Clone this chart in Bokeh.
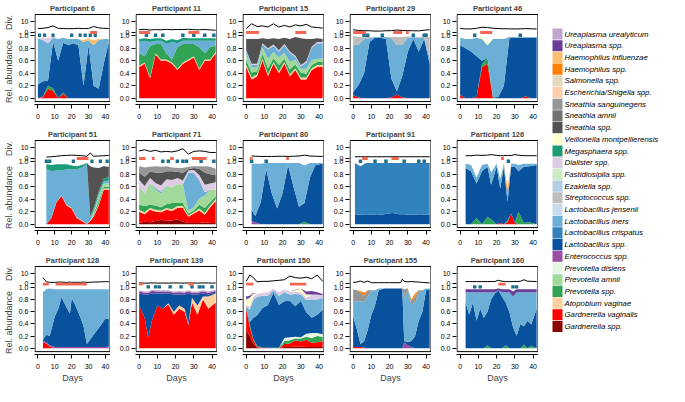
from bokeh.plotting import figure
from bokeh.models import ColumnDataSource, Range1d, FixedTicker
from bokeh.layouts import row, column
from bokeh.embed import file_html
from bokeh.resources import INLINE
from bokeh.core.properties import value

# ---------------- taxa (stack order: bottom -> top) ----------------
TAXA = ["Gardnerella spp.", "Gardnerella vaginalis", "Atopobium vaginae",
        "Prevotella spp.", "Prevotella amnii", "Prevotella disiens",
        "Enterococcus spp.", "Lactobacillus spp.", "Lactobacillus crispatus",
        "Lactobacillus iners", "Lactobacillus jensenii", "Streptococcus spp.",
        "Ezakiella spp.", "Fastidiosipila spp.", "Dialister spp.",
        "Megasphaera spp.", "Veillonella montpellierensis", "Sneathia spp.",
        "Sneathia amnii", "Sneathia sanguinegens", "Escherichia/Shigella spp.",
        "Salmonella spp.", "Haemophilus spp.", "Haemophilus influenzae",
        "Ureaplasma spp.", "Ureaplasma urealyticum"]
COLORS = ["#8b0000", "#ff0000", "#fdd0a2",
          "#31a354", "#a1d99b", "#e5f5e0",
          "#984ea3", "#08519c", "#3182bd",
          "#6baed6", "#c6dbef", "#bdbdbd",
          "#b3cde3", "#ccebc5", "#decbe4",
          "#1b9e77", "#ffffcc", "#525252",
          "#737373", "#969696", "#fdcdac",
          "#e5d8bd", "#ff7f00", "#fdbf6f",
          "#6a3d9a", "#c2a5cf"]
X_TICKS = [0, 10, 20, 30, 40]
Y_TICKS = [0.0, 0.2, 0.4, 0.6, 0.8, 1.0]
Y_LABELS = ["0.0", "0.2", "0.4", "0.6", "0.8", "1.0"]
DIV_TICKS = [0, 10]

# ---------------- panel data ----------------
P6 = {"title": "Participant 6",
      "days": [0, 3, 6, 9, 12, 15, 18, 21, 24, 27, 30, 33, 36, 39, 42],
      "div": [3.5, 3.8, 4.5, 6.0, 3.8, 3.6, 3.4, 3.5, 3.8, 3.5, 3.6, 5.5, 4.2, 3.8, 3.6],
      "blue": [1, 4, 9, 20, 25, 28, 31, 34], "red": [(31, 35)],
      "abund": {
          "Gardnerella vaginalis": [0, 0.02, 0.15, 0.12, 0, 0.07, 0, 0, 0, 0, 0, 0, 0, 0, 0],
          "Prevotella spp.": [0, 0.01, 0.05, 0.04, 0, 0.02, 0, 0, 0, 0, 0, 0, 0, 0, 0],
          "Lactobacillus spp.": [0.22, 0.24, 0.08, 0.75, 0.6, 0.8, 0.85, 0.88, 0.85, 0.2, 0.85, 0.2, 0.15, 0.55, 0.9],
          "Lactobacillus iners": [0.74, 0.66, 0.6, 0.06, 0.35, 0.08, 0.1, 0.07, 0.1, 0.7, 0.08, 0.65, 0.78, 0.4, 0.05],
          "Dialister spp.": [0, 0.04, 0.08, 0.02, 0, 0, 0, 0, 0, 0, 0, 0, 0, 0, 0],
          "Haemophilus influenzae": [0, 0, 0, 0, 0, 0, 0, 0, 0, 0.03, 0.03, 0.08, 0.02, 0, 0]}}

P11 = {"title": "Participant 11",
       "days": [0, 3, 6, 9, 12, 15, 18, 21, 24, 27, 30, 33, 36, 39, 42],
       "div": [2.5, 2.8, 2.2, 2.6, 2.4, 2.8, 2.5, 2.7, 2.6, 2.9, 2.5, 2.4, 2.7, 2.3, 2.0],
       "blue": [4, 9, 13, 24, 30, 36, 41], "red": [(0, 6), (27, 33)],
       "abund": {
           "Gardnerella vaginalis": [0.5, 0.55, 0.32, 0.7, 0.6, 0.6, 0.55, 0.45, 0.55, 0.6, 0.65, 0.45, 0.6, 0.6, 0.72],
           "Atopobium vaginae": [0.02, 0.02, 0.02, 0.02, 0.02, 0.02, 0.02, 0.02, 0.02, 0.02, 0.02, 0.02, 0.02, 0.02, 0.02],
           "Prevotella spp.": [0.2, 0.1, 0.5, 0.15, 0.25, 0.1, 0.05, 0.35, 0.3, 0.25, 0.2, 0.35, 0.1, 0.2, 0.1],
           "Lactobacillus iners": [0.18, 0.25, 0.06, 0.05, 0.05, 0.15, 0.28, 0.06, 0.05, 0.05, 0.05, 0.1, 0.2, 0.1, 0.08],
           "Megasphaera spp.": [0.05, 0.04, 0.05, 0.04, 0.04, 0.05, 0.05, 0.05, 0.05, 0.04, 0.04, 0.04, 0.04, 0.04, 0.04]}}

P15 = {"title": "Participant 15",
       "days": [0, 3, 6, 9, 12, 15, 18, 21, 24, 27, 30, 33, 36, 39, 42],
       "div": [3.5, 8.0, 5.5, 6.0, 5.0, 8.0, 5.0, 6.5, 5.0, 7.0, 6.0, 7.5, 5.0, 4.5, 4.0],
       "blue": [], "red": [(0, 7), (27, 33)],
       "abund": {
           "Gardnerella vaginalis": [0.5, 0.3, 0.35, 0.6, 0.35, 0.55, 0.4, 0.55, 0.35, 0.45, 0.3, 0.3, 0.45, 0.5, 0.5],
           "Atopobium vaginae": [0.03, 0.03, 0.03, 0.03, 0.03, 0.03, 0.03, 0.03, 0.03, 0.03, 0.03, 0.03, 0.03, 0.03, 0.03],
           "Prevotella spp.": [0.08, 0.08, 0.05, 0.08, 0.1, 0.06, 0.1, 0.05, 0.08, 0.06, 0.08, 0.06, 0.05, 0.05, 0.05],
           "Prevotella amnii": [0.1, 0.08, 0.06, 0.1, 0.15, 0.1, 0.12, 0.1, 0.12, 0.08, 0.06, 0.08, 0.08, 0.05, 0.05],
           "Lactobacillus iners": [0.04, 0.04, 0.04, 0.05, 0.15, 0.1, 0.1, 0.12, 0.15, 0.04, 0.04, 0.1, 0.2, 0.25, 0.25],
           "Dialister spp.": [0.02, 0.02, 0.02, 0.02, 0.02, 0.02, 0.02, 0.02, 0.02, 0.02, 0.02, 0.02, 0.02, 0.02, 0.02],
           "Sneathia spp.": [0.18, 0.4, 0.4, 0.08, 0.15, 0.1, 0.18, 0.1, 0.2, 0.3, 0.43, 0.36, 0.12, 0.06, 0.05]}}

P29 = {"title": "Participant 29",
       "days": [0, 3, 6, 9, 12, 15, 18, 21, 24, 27, 30, 33, 36, 39, 42],
       "div": [2.5, 1.8, 1.5, 1.5, 1.2, 1.2, 1.5, 1.6, 2.2, 1.8, 1.6, 1.5, 1.4, 2.0, 2.5],
       "blue": [6, 8, 16, 33, 39, 40], "red": [(0, 7), (22, 27), (29, 30.5)],
       "abund": {
           "Gardnerella vaginalis": [0.05, 0.01, 0, 0, 0, 0, 0, 0.01, 0.06, 0.01, 0, 0, 0, 0, 0],
           "Lactobacillus spp.": [0.05, 0.2, 0.4, 0.9, 0.97, 0.97, 0.95, 0.3, 0.05, 0.35, 0.75, 0.95, 0.75, 0.95, 0.55],
           "Lactobacillus iners": [0.75, 0.65, 0.55, 0.06, 0.01, 0.01, 0.03, 0.65, 0.74, 0.5, 0.22, 0.03, 0.22, 0.02, 0.1],
           "Streptococcus spp.": [0.15, 0.12, 0.03, 0.02, 0, 0, 0, 0.02, 0.13, 0.12, 0.02, 0, 0.01, 0.01, 0.33]}}

P46 = {"title": "Participant 46",
       "days": [0, 3, 6, 9, 12, 15, 18, 21, 24, 27, 30, 33, 36, 39, 42],
       "div": [3.5, 3.3, 3.2, 3.8, 4.8, 4.5, 3.8, 3.5, 3.4, 3.3, 3.2, 3.3, 3.5, 3.3, 3.2],
       "blue": [8, 33], "red": [(11, 17.5)],
       "abund": {
           "Gardnerella vaginalis": [0.05, 0, 0, 0.02, 0.5, 0.55, 0, 0, 0, 0, 0, 0, 0.03, 0, 0],
           "Prevotella spp.": [0, 0, 0, 0, 0.05, 0.1, 0.02, 0, 0, 0, 0, 0, 0, 0, 0],
           "Lactobacillus spp.": [0.8, 0.8, 0.75, 0.65, 0.05, 0, 0, 0.02, 0.2, 0.96, 0.97, 0.97, 0.94, 0.97, 0.97],
           "Lactobacillus iners": [0.12, 0.15, 0.2, 0.3, 0.35, 0.2, 0.93, 0.93, 0.75, 0.02, 0.01, 0.01, 0.01, 0.01, 0.01],
           "Veillonella montpellierensis": [0, 0, 0, 0, 0.05, 0.03, 0, 0, 0, 0, 0, 0, 0, 0, 0]}}

P51 = {"title": "Participant 51",
       "days": [5, 8, 11, 14, 17, 20, 23, 26, 29, 31, 33, 36, 39, 42],
       "div": [1.2, 1.5, 2.0, 2.5, 2.8, 3.0, 2.8, 2.5, 2.0, 5.0, 2.0, 2.2, 2.5, 2.8],
       "blue": [5, 7, 21, 32, 37, 41], "red": [(23, 30)],
       "abund": {
           "Gardnerella vaginalis": [0, 0.1, 0.35, 0.45, 0.3, 0.25, 0.1, 0.05, 0, 0.05, 0.12, 0.3, 0.55, 0.55],
           "Atopobium vaginae": [0, 0, 0.01, 0.01, 0.01, 0.01, 0.01, 0.01, 0, 0.01, 0.02, 0.02, 0.02, 0.02],
           "Prevotella spp.": [0, 0, 0, 0, 0, 0, 0, 0, 0, 0, 0.02, 0.05, 0.03, 0.03],
           "Prevotella amnii": [0, 0, 0, 0, 0, 0, 0, 0, 0, 0, 0.03, 0.06, 0.05, 0.05],
           "Lactobacillus iners": [0.88, 0.75, 0.5, 0.4, 0.57, 0.62, 0.77, 0.85, 0.97, 0.05, 0.02, 0.05, 0.03, 0.05],
           "Megasphaera spp.": [0.08, 0.1, 0.1, 0.1, 0.08, 0.06, 0.05, 0.04, 0.01, 0.02, 0.05, 0.04, 0.05, 0.06],
           "Sneathia spp.": [0, 0, 0, 0, 0, 0, 0, 0, 0, 0.8, 0.65, 0.38, 0.2, 0.16]}}

P71 = {"title": "Participant 71",
       "days": [0, 3, 6, 9, 12, 15, 18, 21, 24, 27, 30, 33, 36, 39, 42],
       "div": [7.0, 8.0, 6.5, 7.5, 6.0, 6.5, 6.0, 7.0, 9.0, 4.0, 6.5, 7.0, 6.5, 5.5, 5.5],
       "blue": [13, 16, 21, 24, 26, 34, 41], "red": [(0, 3.5), (7, 8.5), (17, 19), (29, 37)],
       "abund": {
           "Gardnerella spp.": [0.02, 0.04, 0.03, 0.05, 0.07, 0.05, 0.06, 0.08, 0.04, 0.02, 0.02, 0.02, 0.03, 0.02, 0.02],
           "Gardnerella vaginalis": [0.18, 0.12, 0.2, 0.15, 0.12, 0.18, 0.15, 0.18, 0.22, 0.1, 0.15, 0.2, 0.12, 0.25, 0.35],
           "Atopobium vaginae": [0.03, 0.03, 0.03, 0.03, 0.03, 0.03, 0.03, 0.03, 0.03, 0.02, 0.02, 0.03, 0.03, 0.03, 0.03],
           "Prevotella spp.": [0.08, 0.1, 0.05, 0.07, 0.05, 0.06, 0.1, 0.05, 0.05, 0.03, 0.03, 0.06, 0.08, 0.05, 0.05],
           "Prevotella amnii": [0.3, 0.2, 0.35, 0.25, 0.22, 0.3, 0.25, 0.3, 0.3, 0.05, 0.05, 0.1, 0.2, 0.2, 0.1],
           "Lactobacillus iners": [0, 0, 0, 0.03, 0.03, 0, 0, 0, 0, 0.6, 0.55, 0.3, 0.05, 0, 0],
           "Dialister spp.": [0.1, 0.12, 0.08, 0.08, 0.1, 0.1, 0.12, 0.1, 0.06, 0.04, 0.05, 0.08, 0.12, 0.1, 0.12],
           "Sneathia spp.": [0.12, 0.15, 0.1, 0.17, 0.2, 0.13, 0.14, 0.1, 0.12, 0.02, 0.03, 0.1, 0.2, 0.15, 0.12],
           "Sneathia sanguinegens": [0.1, 0.15, 0.08, 0.1, 0.1, 0.08, 0.06, 0.06, 0.08, 0.04, 0.03, 0.04, 0.1, 0.12, 0.1]}}

P80 = {"title": "Participant 80",
       "days": [3, 5, 8, 11, 14, 17, 20, 23, 26, 29, 32, 35, 38, 42],
       "div": [2.2, 2.0, 1.8, 1.8, 1.8, 1.9, 2.0, 1.8, 2.0, 2.2, 3.0, 2.2, 2.0, 1.8],
       "blue": [3, 11], "red": [(2, 3.5), (22, 23.5)],
       "abund": {
           "Prevotella spp.": [0, 0, 0, 0, 0, 0, 0, 0, 0, 0, 0.04, 0, 0, 0],
           "Enterococcus spp.": [0.05, 0.03, 0, 0, 0, 0, 0, 0, 0, 0, 0, 0, 0, 0],
           "Lactobacillus spp.": [0.18, 0.1, 0.35, 0.88, 0.5, 0.25, 0.5, 0.95, 0.6, 0.28, 0.3, 0.75, 0.95, 0.97],
           "Lactobacillus iners": [0.74, 0.84, 0.62, 0.1, 0.48, 0.73, 0.48, 0.03, 0.38, 0.7, 0.6, 0.23, 0.03, 0.01]}}

P91 = {"title": "Participant 91",
       "days": [1, 4, 7, 10, 13, 16, 19, 22, 25, 28, 31, 34, 37, 40, 42],
       "div": [1.5, 1.5, 1.5, 1.5, 1.5, 1.5, 1.5, 1.5, 1.5, 1.5, 1.5, 1.5, 1.5, 1.5, 1.5],
       "blue": [4, 12, 18, 28, 36, 39], "red": [(5, 8), (21, 25)],
       "abund": {
           "Lactobacillus spp.": [0.16, 0.15, 0.16, 0.15, 0.16, 0.15, 0.17, 0.18, 0.16, 0.16, 0.15, 0.15, 0.16, 0.15, 0.15],
           "Lactobacillus crispatus": [0.82, 0.78, 0.82, 0.83, 0.82, 0.83, 0.81, 0.8, 0.82, 0.82, 0.83, 0.83, 0.82, 0.83, 0.83]}}

P126 = {"title": "Participant 126",
        "days": [3, 6, 9, 12, 15, 17, 20, 22, 24, 26, 28, 30, 32, 35, 38, 42],
        "div": [2.5, 2.5, 3.0, 2.8, 3.0, 3.5, 2.8, 2.5, 2.5, 2.8, 2.6, 3.5, 3.0, 2.5, 2.5, 2.4],
        "blue": [26.5], "red": [(22.5, 24)],
        "abund": {
            "Gardnerella vaginalis": [0, 0, 0, 0, 0, 0, 0, 0.02, 0, 0.03, 0.17, 0.02, 0, 0, 0, 0],
            "Prevotella spp.": [0, 0, 0.1, 0, 0.12, 0.08, 0, 0, 0, 0.03, 0, 0, 0.2, 0.02, 0.03, 0],
            "Lactobacillus spp.": [0.9, 0.85, 0.55, 0.85, 0.8, 0.55, 0.92, 0.55, 0.92, 0.3, 0.75, 0.9, 0.65, 0.9, 0.9, 0.95],
            "Lactobacillus iners": [0.07, 0.1, 0.1, 0.1, 0.05, 0.2, 0.05, 0.15, 0.05, 0.1, 0.05, 0.05, 0.1, 0.05, 0.04, 0.02],
            "Haemophilus spp.": [0, 0, 0, 0, 0, 0, 0, 0, 0, 0.1, 0, 0, 0, 0, 0, 0]}}

P128 = {"title": "Participant 128",
        "days": [3, 5, 7, 10, 12, 14, 17, 19, 20, 22, 25, 27, 29, 33, 37, 40, 42],
        "div": [6.0, 2.0, 1.5, 1.5, 1.8, 1.8, 1.5, 1.8, 1.5, 1.6, 1.5, 1.8, 1.5, 1.8, 2.0, 2.2, 2.2],
        "blue": [], "red": [(3, 6.5), (10.5, 29)],
        "abund": {
            "Gardnerella vaginalis": [0.1, 0.08, 0.03, 0, 0, 0, 0, 0, 0, 0, 0, 0, 0, 0, 0, 0, 0.01],
            "Enterococcus spp.": [0.02, 0.02, 0.02, 0.02, 0.02, 0.02, 0.02, 0.02, 0.02, 0.02, 0.02, 0.02, 0.02, 0.02, 0.02, 0.02, 0.02],
            "Lactobacillus spp.": [0.02, 0.12, 0.15, 0.5, 0.62, 0.82, 0.65, 0.55, 0.8, 0.7, 0.5, 0.35, 0.05, 0.2, 0.35, 0.47, 0.45],
            "Lactobacillus iners": [0.78, 0.75, 0.78, 0.45, 0.33, 0.13, 0.3, 0.4, 0.15, 0.25, 0.45, 0.6, 0.9, 0.75, 0.6, 0.48, 0.49]}}

P139 = {"title": "Participant 139",
        "days": [0, 3, 5, 7, 10, 13, 16, 19, 22, 25, 27, 29, 32, 35, 38, 42],
        "div": [1.0, 0.8, 0.8, 1.0, 0.8, 0.9, 0.8, 1.0, 0.9, 0.8, 1.0, 0.9, 0.8, 1.0, 0.9, 0.8],
        "blue": [5, 9, 11, 17, 23, 29, 33, 35, 40], "red": [(0, 2), (27, 30)],
        "abund": {
            "Gardnerella vaginalis": [0.7, 0.5, 0.18, 0.45, 0.7, 0.65, 0.72, 0.55, 0.65, 0.6, 0.38, 0.75, 0.55, 0.8, 0.65, 0.75],
            "Atopobium vaginae": [0, 0, 0, 0, 0, 0, 0.02, 0.05, 0.05, 0.05, 0.02, 0.08, 0.15, 0.05, 0.2, 0.15],
            "Lactobacillus spp.": [0.2, 0.38, 0.7, 0.45, 0.2, 0.25, 0.16, 0.28, 0.18, 0.23, 0.5, 0.05, 0.18, 0.05, 0.03, 0.01],
            "Ureaplasma spp.": [0.03, 0.03, 0.03, 0.04, 0.03, 0.03, 0.03, 0.03, 0.04, 0.03, 0.03, 0.03, 0.03, 0.03, 0.03, 0.03],
            "Ureaplasma urealyticum": [0.02, 0.02, 0.02, 0.02, 0.02, 0.02, 0.02, 0.02, 0.02, 0.02, 0.02, 0.02, 0.02, 0.02, 0.02, 0.02]}}

P150 = {"title": "Participant 150",
        "days": [0, 2, 4, 6, 9, 12, 15, 18, 21, 24, 27, 30, 33, 36, 39, 42],
        "div": [2.5, 8.5, 6.0, 2.0, 2.5, 2.5, 3.0, 3.5, 4.0, 7.5, 6.0, 5.5, 6.5, 5.0, 8.5, 2.5],
        "blue": [], "red": [(0, 4), (24, 33)],
        "abund": {
            "Gardnerella spp.": [0.3, 0.2, 0.08, 0.01, 0, 0, 0, 0, 0.02, 0.02, 0.03, 0.03, 0.02, 0.02, 0.02, 0.02],
            "Gardnerella vaginalis": [0.35, 0.15, 0.05, 0.01, 0.01, 0, 0, 0, 0.05, 0.06, 0.1, 0.08, 0.12, 0.07, 0.08, 0.1],
            "Prevotella spp.": [0.02, 0.03, 0.02, 0.02, 0, 0.01, 0.01, 0.01, 0.05, 0.05, 0.03, 0.05, 0.05, 0.08, 0.1, 0.07],
            "Prevotella disiens": [0, 0, 0, 0, 0, 0, 0, 0, 0.05, 0.05, 0.03, 0.02, 0.05, 0.08, 0.05, 0.04],
            "Lactobacillus spp.": [0.02, 0.05, 0.35, 0.5, 0.65, 0.7, 0.9, 0.7, 0.6, 0.6, 0.5, 0.6, 0.35, 0.25, 0.3, 0.4],
            "Lactobacillus iners": [0.0, 0.2, 0.3, 0.3, 0.2, 0.15, 0.04, 0.15, 0.15, 0.1, 0.2, 0.1, 0.2, 0.3, 0.25, 0.2],
            "Dialister spp.": [0.03, 0.05, 0.05, 0.05, 0.05, 0.06, 0.03, 0.06, 0.05, 0.05, 0.04, 0.04, 0.04, 0.08, 0.08, 0.04],
            "Veillonella montpellierensis": [0.08, 0.15, 0.05, 0, 0, 0, 0, 0, 0, 0, 0.02, 0.06, 0.05, 0, 0, 0],
            "Ureaplasma spp.": [0.05, 0.03, 0.01, 0, 0, 0, 0, 0, 0, 0, 0.01, 0, 0.05, 0.06, 0.04, 0.02]}}

P155 = {"title": "Participant 155",
        "days": [0, 2, 4, 6, 8, 10, 12, 14, 17, 20, 23, 26, 27, 28, 30, 32, 34, 36, 38, 40, 42],
        "div": [1.5, 1.8, 2.8, 1.5, 2.8, 1.2, 1.2, 1.2, 1.2, 1.2, 1.2, 1.2, 4.5, 2.5, 2.0, 2.3, 2.0, 1.8, 1.5, 1.2, 1.0],
        "blue": [], "red": [],
        "abund": {
            "Gardnerella vaginalis": [0.02, 0.02, 0.02, 0.01, 0, 0, 0, 0, 0, 0, 0, 0, 0, 0, 0, 0, 0, 0, 0, 0, 0],
            "Enterococcus spp.": [0, 0, 0, 0, 0, 0, 0, 0, 0, 0, 0, 0, 0, 0.1, 0.05, 0.02, 0, 0, 0, 0, 0],
            "Lactobacillus spp.": [0.5, 0.3, 0.05, 0.1, 0.3, 0.55, 0.7, 0.95, 0.98, 0.98, 0.98, 0.98, 0.98, 0.02, 0.05, 0.1, 0.2, 0.45, 0.6, 0.95, 0.97],
            "Lactobacillus iners": [0.25, 0.45, 0.7, 0.65, 0.55, 0.38, 0.25, 0.03, 0, 0, 0, 0, 0, 0.7, 0.85, 0.6, 0.55, 0.45, 0.35, 0.03, 0.01],
            "Sneathia sanguinegens": [0.2, 0.18, 0.15, 0.1, 0.1, 0.02, 0, 0, 0, 0, 0, 0, 0, 0.15, 0.03, 0.05, 0.1, 0.05, 0, 0, 0],
            "Haemophilus spp.": [0, 0, 0.02, 0.05, 0, 0, 0, 0, 0, 0, 0, 0, 0, 0, 0, 0.03, 0.05, 0, 0, 0, 0]}}

P160 = {"title": "Participant 160",
        "days": [3, 5, 7, 9, 11, 13, 15, 17, 19, 21, 23, 25, 27, 29, 31, 33, 35, 37, 39, 42],
        "div": [2.3, 2.3, 2.2, 2.3, 2.2, 2.3, 2.2, 2.4, 2.3, 3.5, 2.6, 2.3, 2.2, 2.4, 2.3, 2.5, 4.0, 2.6, 2.5, 2.3],
        "blue": [8, 11, 29, 31], "red": [(21, 25)],
        "abund": {
            "Prevotella spp.": [0, 0, 0, 0, 0, 0, 0.05, 0, 0, 0, 0, 0.05, 0, 0, 0, 0, 0.06, 0, 0.04, 0],
            "Lactobacillus spp.": [0.75, 0.55, 0.75, 0.45, 0.65, 0.5, 0.55, 0.8, 0.9, 0.95, 0.85, 0.7, 0.6, 0.35, 0.2, 0.4, 0.3, 0.45, 0.35, 0.65],
            "Lactobacillus iners": [0.17, 0.37, 0.17, 0.47, 0.27, 0.42, 0.32, 0.12, 0.02, 0, 0.07, 0.17, 0.32, 0.5, 0.72, 0.52, 0.56, 0.47, 0.53, 0.27],
            "Ureaplasma spp.": [0.05, 0.05, 0.05, 0.05, 0.05, 0.05, 0.05, 0.05, 0.05, 0.03, 0.05, 0.05, 0.05, 0.08, 0.05, 0.05, 0.05, 0.05, 0.05, 0.05]}}

GRID = [[P6, P11, P15, P29, P46],
        [P51, P71, P80, P91, P126],
        [P128, P139, P150, P155, P160]]

# ---------------- styling / layout constants ----------------
FONT = "Liberation Sans"
BLUE_MARK = "#1a6f8f"
RED_MARK = "#f4664f"
X0, X1 = -2.0, 43.0
BOX_L, BOX_R = -1.7, 42.7
BOX_T, BOX_B = 1.342, -0.055
FRAME_W, FRAME_H = 82, 93
PAD_TOP_PX, PAD_BOT_PX = 1, 3          # box inside frame; x axis sits 3px below box
_R = (BOX_T - BOX_B) / (1 - (PAD_TOP_PX + PAD_BOT_PX) / FRAME_H)
Y0 = BOX_B - PAD_BOT_PX * _R / FRAME_H
Y1 = BOX_T + PAD_TOP_PX * _R / FRAME_H
DIV0, DIVK = 1.055, 0.0172   # position of Div=0 and height per Div unit
TOP_B = 11


def make_panel(P, ci, ri):
    first_col = ci == 0
    last_row = ri == 2
    left_b = 28 if first_col else 25
    bottom_b = 29 if last_row else 22
    p = figure(width=left_b + FRAME_W, height=TOP_B + FRAME_H + bottom_b,
               x_range=Range1d(X0, X1), y_range=Range1d(Y0, Y1),
               output_backend="svg", toolbar_location=None,
               min_border_left=left_b, min_border_right=0,
               min_border_top=TOP_B, min_border_bottom=bottom_b,
               title=P["title"])
    p.extra_y_ranges = {"div": Range1d((Y0 - DIV0) / DIVK, (Y1 - DIV0) / DIVK)}
    p.outline_line_color = None
    p.xgrid.visible = False
    p.ygrid.visible = False

    p.title.align = "center"
    p.title.text_font = FONT
    p.title.text_font_size = "7.5px"
    p.title.text_font_style = "bold"
    p.title.standoff = 2
    p.title.offset = 0

    # stacked relative abundances
    present = [t for t in TAXA if t in P["abund"]]
    cols = [COLORS[TAXA.index(t)] for t in present]
    data = {"days": P["days"]}
    for t in present:
        data[t] = P["abund"][t]
    src = ColumnDataSource(data)
    p.varea_stack(stackers=present, x="days", color=cols, source=src)

    # diversity line
    p.line(x=P["days"], y=P["div"], y_range_name="div", line_color="black", line_width=1)

    # markers
    if P["blue"]:
        p.rect(x=P["blue"], y=1.008, width=1.9, height=0.055,
               fill_color=BLUE_MARK, line_color=None)
    if P["red"]:
        p.quad(left=[a for a, b in P["red"]], right=[b for a, b in P["red"]],
               bottom=1.028, top=1.076, fill_color=RED_MARK, line_color=None)

    # box
    p.quad(left=BOX_L, right=BOX_R, bottom=BOX_B, top=BOX_T,
           fill_color=None, line_color="black", line_width=1)

    # axes
    ticks = Y_TICKS + [DIV0 + d * DIVK for d in DIV_TICKS]
    labels = Y_LABELS + [str(d) for d in DIV_TICKS]
    p.yaxis.ticker = FixedTicker(ticks=ticks)
    p.yaxis.major_label_overrides = {t: l for t, l in zip(ticks, labels)}
    p.xaxis.ticker = FixedTicker(ticks=X_TICKS)
    for ax in (p.xaxis, p.yaxis):
        ax.major_label_text_font = FONT
        ax.major_label_text_font_size = "7px"
        ax.major_label_text_color = "black"
        ax.major_tick_in = 0
        ax.minor_tick_line_color = None
        ax.major_tick_line_color = "black"
        ax.axis_label_text_font = FONT
        ax.axis_label_text_font_style = "normal"
        ax.axis_label_text_font_size = "9px"
    p.yaxis.major_tick_out = 4
    p.yaxis.axis_line_color = None
    p.yaxis.major_label_standoff = 2
    p.yaxis.axis_label_standoff = 2
    p.xaxis.major_tick_out = 4
    p.xaxis.axis_line_color = "black"
    p.xaxis.major_label_standoff = 5
    p.xaxis.axis_label_standoff = 1
    if first_col:
        p.yaxis.axis_label = "Rel. abundance\u00a0\u00a0\u00a0\u00a0Div."
    if last_row:
        p.xaxis.axis_label = "Days"
    return p


rows = []
for ri, grid_row in enumerate(GRID):
    rows.append(row(*[make_panel(P, ci, ri) for ci, P in enumerate(grid_row)]))
panels = column(*rows)

# ---------------- legend ----------------
LEG_W, LEG_H = 131, 384
LEG_TOP_PX, LEG_STEP_PX = 33.5, 11.7
leg_names = TAXA[::-1]
leg_colors = COLORS[::-1]
leg_idx = list(range(len(leg_names)))
lg = figure(width=LEG_W, height=LEG_H, x_range=Range1d(0, LEG_W),
            y_range=Range1d((LEG_H - LEG_TOP_PX) / LEG_STEP_PX, -LEG_TOP_PX / LEG_STEP_PX),
            output_backend="svg", toolbar_location=None,
            min_border=0, outline_line_color=None)
lg.axis.visible = False
lg.grid.visible = False
lg.rect(x=19, y=leg_idx, width=10, height=0.95, fill_color=leg_colors, line_color=None)
lg.text(x=26, y=leg_idx, text=leg_names, text_baseline="middle", text_align="left",
        text_font=value(FONT), text_font_style="italic", text_font_size="7.8px",
        text_color="black")

layout = row(panels, lg)
open("out.html", "w").write(file_html(layout, INLINE))
